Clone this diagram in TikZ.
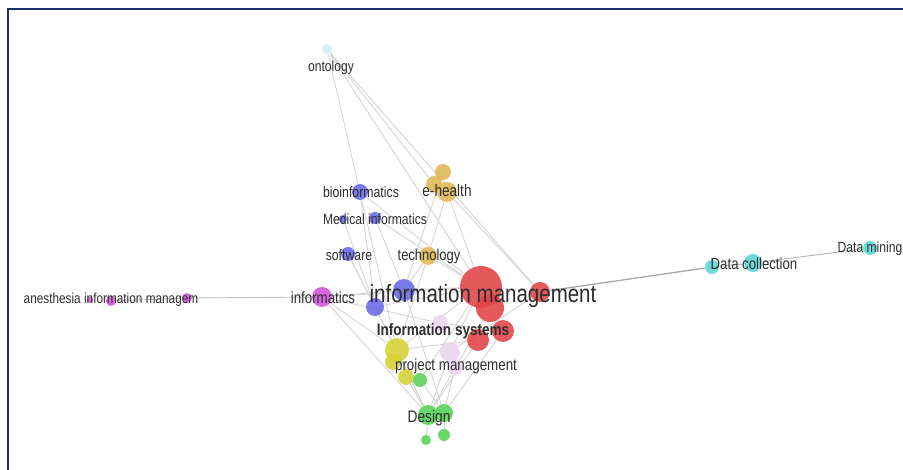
\documentclass[tikz,border=0pt]{standalone}
\usepackage{fontspec}
\setmainfont{Liberation Sans}[FakeStretch=0.82]
\usetikzlibrary{backgrounds}
\definecolor{frm}{RGB}{28,45,110}
\definecolor{txt}{RGB}{45,45,45}
\definecolor{cred}{RGB}{224,66,70}
\definecolor{cblue}{RGB}{104,104,232}
\definecolor{cmag}{RGB}{212,84,222}
\definecolor{cgold}{RGB}{222,182,84}
\definecolor{cyel}{RGB}{212,210,52}
\definecolor{cgrn}{RGB}{84,210,84}
\definecolor{clav}{RGB}{236,212,240}
\definecolor{ccyan}{RGB}{92,212,212}
\definecolor{cpale}{RGB}{205,238,242}
\definecolor{edge}{RGB}{212,212,212}
\newcommand{\fsz}[1]{\fontsize{#1}{#1}\selectfont}

\begin{document}
\begin{tikzpicture}[x=1pt, y=-1pt, thick,
  nd/.style = {circle, inner sep=0pt, fill opacity=0.88, minimum size=#1},
  lbl/.style = {inner sep=0pt, text=txt, font=\fsz{#1}},
  link/.style = {edge, line width=0.9pt}]
\useasboundingbox (0,0) rectangle (903,470);
\draw[frm, line width=2.2pt] (903,9) -- (8,9) -- (8,470);

% circles
\node[nd=42, fill=cred] (im) at (481,287) {};
\node[nd=28, fill=cred] (im2) at (490,308) {};
\node[nd=20, fill=cred] (r3) at (540,292) {};
\node[nd=22, fill=cred] (r4) at (503,331) {};
\node[nd=22, fill=cred] (r5) at (478,340) {};
\node[nd=22, fill=cblue] (b1) at (404,290) {};
\node[nd=18, fill=cblue] (b2) at (375,307) {};
\node[nd=16, fill=cblue] (bio) at (360,192) {};
\node[nd=8, fill=cblue] (med1) at (343,219) {};
\node[nd=12, fill=cblue] (med2) at (375,218) {};
\node[nd=14, fill=cblue] (sw) at (348,254) {};
\node[nd=20, fill=cmag] (inf) at (322,297) {};
\node[nd=6, fill=cmag] (an1) at (90,300) {};
\node[nd=10, fill=cmag] (an2) at (111,301) {};
\node[nd=10, fill=cmag] (an3) at (187,298) {};
\node[nd=16, fill=cgold] (eh1) at (443,172) {};
\node[nd=16, fill=cgold] (eh2) at (434,184) {};
\node[nd=20, fill=cgold] (eh3) at (447,192) {};
\node[nd=18, fill=cgold] (tech) at (428,256) {};
\node[nd=24, fill=cyel] (y1) at (397,350) {};
\node[nd=16, fill=cyel] (y2) at (393,362) {};
\node[nd=16, fill=cyel] (y3) at (406,377) {};
\node[nd=14, fill=cgrn] (g1) at (420,380) {};
\node[nd=20, fill=cgrn] (ds1) at (428,415) {};
\node[nd=18, fill=cgrn] (ds2) at (444,413) {};
\node[nd=10, fill=cgrn] (ds3) at (426,440) {};
\node[nd=12, fill=cgrn] (ds4) at (444,435) {};
\node[nd=16, fill=clav] (l1) at (440,323) {};
\node[nd=20, fill=clav] (l2) at (450,352) {};
\node[nd=16, fill=clav] (l3) at (455,367) {};
\node[nd=10, fill=cpale] (ont) at (327,49) {};
\node[nd=14, fill=ccyan] (dc1) at (712,267) {};
\node[nd=18, fill=ccyan] (dc2) at (753,263) {};
\node[nd=14, fill=ccyan] (dm) at (870,248) {};

% links
\begin{scope}[on background layer]
  \draw[link, draw=gray!70, line width=1.3pt] (r3) -- (dc1);
  \draw[link, draw=gray!60] (dc1) -- (dc2) -- (dm);
  \draw[link, draw=gray!50] (an2) -- (an3) -- (inf);
  \foreach \a/\b in {ont/bio, ont/im, ont/eh2, ont/r3, eh3/im, eh3/tech, eh3/r3, eh1/b1,
      bio/b2, bio/im, bio/y1, med2/im, med2/b1, med1/b2, sw/b2, sw/y1,
      tech/im, tech/b1, tech/y1, inf/im, inf/b1, inf/y1, inf/l1, inf/ds1,
      b1/im, b2/im, b2/ds1, b1/ds2, im/r3, im/y1, im/g1, im/l2,
      y1/ds1, y3/ds1, g1/ds2, l2/ds1, l3/ds2, r4/ds2, r5/ds1, r5/y1, r4/l1,
      ds1/ds3, ds2/ds4, im2/ds1, r3/l2}
    \draw[link] (\a) -- (\b);
\end{scope}

% labels
\node[lbl=25] (t-im) at (483,296) {information management};
\node[lbl=16.5, font=\fsz{16.5}\bfseries] (t-is) at (443,331) {Information systems};
\node[lbl=16.3] (t-pm) at (456,366) {project management};
\node[lbl=16.8] (t-ds) at (429,418) {Design};
\node[lbl=16.2] (t-inf) at (323,298) {informatics};
\node[lbl=15.8] (t-tech) at (429,256) {technology};
\node[lbl=15] (t-sw) at (349,255) {software};
\node[lbl=16.6] (t-eh) at (447,191) {e-health};
\node[lbl=15] (t-bio) at (361,192) {bioinformatics};
\node[lbl=14.8] (t-med) at (375,219) {Medical informatics};
\node[lbl=14.8] (t-ont) at (331,68) {ontology};
\node[lbl=14.4] (t-an) at (111,300) {anesthesia information managem};
\node[lbl=16.1] (t-dc) at (754,264) {Data collection};
\node[lbl=14.8] (t-dm) at (870,249) {Data mining};
\end{tikzpicture}
\end{document}
